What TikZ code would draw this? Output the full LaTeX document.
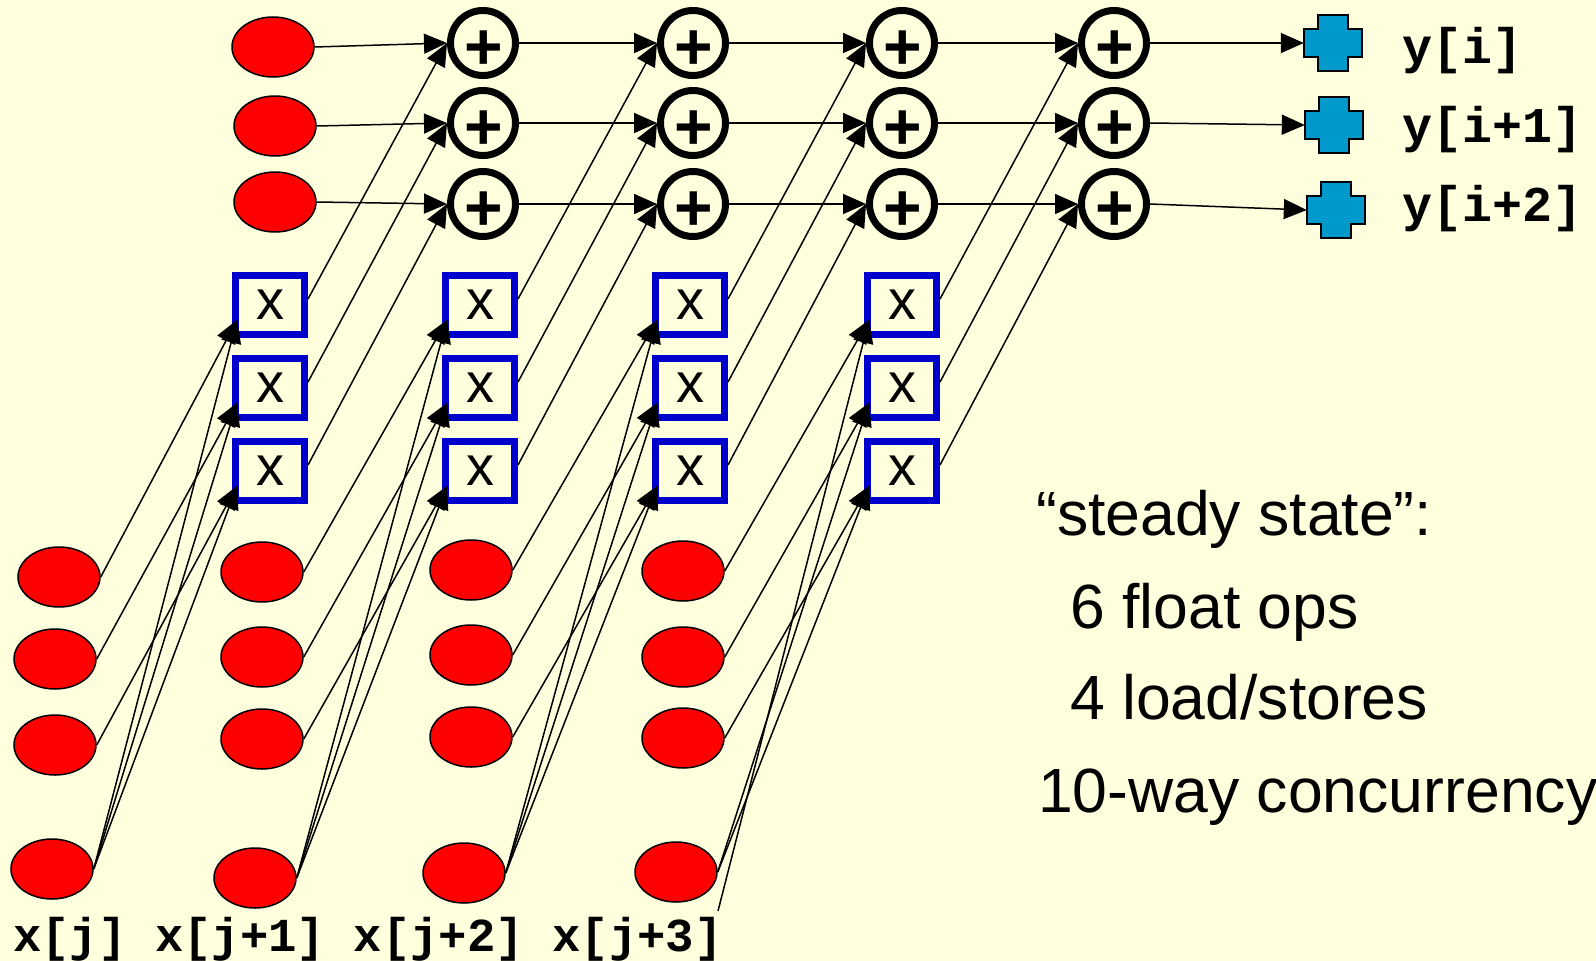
\documentclass[tikz,border=0pt]{standalone}
\usepackage{fontspec}
\setmainfont{Liberation Sans}
\newfontfamily\codefont{Liberation Mono}
\usetikzlibrary{arrows.meta,calc,shapes.geometric}
\definecolor{bgcol}{RGB}{255,255,221}
\definecolor{boxblue}{RGB}{0,0,204}
\definecolor{outblue}{RGB}{0,153,204}
\begin{document}
\begin{tikzpicture}[x=1pt,y=-1pt,
  redell/.style={ellipse,draw=black,line width=1.5pt,fill=red,minimum width=82pt,minimum height=60pt,inner sep=0pt},
  adder/.style={circle,draw=black,line width=7pt,minimum size=65pt,inner sep=0pt},
  mulbox/.style={rectangle,draw=boxblue,line width=7pt,minimum width=69pt,minimum height=59pt,inner sep=0pt,font=\fontsize{56}{56}\selectfont},
  plussym/.style={inner sep=0pt,font=\bfseries\fontsize{66}{66}\selectfont},
  outnode/.style={rectangle,minimum width=58pt,minimum height=57pt,inner sep=0pt},
  crossfill/.style={fill=outblue,draw=black,line width=1.3pt},
  wire/.style={draw=black,line width=1.5pt,-{Triangle[length=23pt,width=20pt]}},
  codelab/.style={anchor=base west,inner sep=0pt,font=\codefont\bfseries\fontsize{50}{50}\selectfont},
  bigtext/.style={anchor=base west,inner sep=0pt,font=\fontsize{62.5}{75}\selectfont}
]
\fill[bgcol] (0,0) rectangle (1596,961);
\useasboundingbox (0,0) rectangle (1596,961);

% initial y values
\node[redell] (I-1) at (273,47) {};
\node[redell] (I-2) at (275,126) {};
\node[redell] (I-3) at (275,202) {};

% adders
\foreach \c/\x in {1/483,2/693,3/902,4/1114}{
  \foreach \r/\y in {1/43,2/123,3/204}{
    \node[adder] (A-\c-\r) at (\x,\y) {};
    \node[plussym] (P-\c-\r) at ($(A-\c-\r)+(1,7)$) {+};
  }
}

% multiply boxes
\foreach \c/\x in {1/270,2/480,3/690,4/902}{
  \foreach \r/\y in {1/305,2/388,3/471}{
    \node[mulbox] (M-\c-\r) at (\x,\y) {x};
  }
}

% matrix / vector ellipses
\node[redell] (E-1-1) at (59,577) {};
\node[redell] (E-1-2) at (55,659) {};
\node[redell] (E-1-3) at (55,745) {};
\node[redell] (E-1-4) at (52,869) {};
\node[redell] (E-2-1) at (262,572) {};
\node[redell] (E-2-2) at (262,657) {};
\node[redell] (E-2-3) at (262,739) {};
\node[redell] (E-2-4) at (255,878) {};
\node[redell] (E-3-1) at (471,570) {};
\node[redell] (E-3-2) at (471,655) {};
\node[redell] (E-3-3) at (471,737) {};
\node[redell] (E-3-4) at (464,873) {};
\node[redell] (E-4-1) at (683,571) {};
\node[redell] (E-4-2) at (683,657) {};
\node[redell] (E-4-3) at (683,738) {};
\node[redell] (E-4-4) at (676,872) {};
\coordinate (stray) at (718,911);

% outputs
\foreach \r/\x/\y in {1/1333/43,2/1334/125,3/1336/210}{
  \node[outnode] (O-\r) at (\x,\y) {};
  \filldraw[crossfill,shift={(O-\r.center)}] (-15,-28) -- (15,-28) -- (15,-14) -- (29,-14) -- (29,14) -- (15,14) -- (15,28) -- (-15,28) -- (-15,14) -- (-29,14) -- (-29,-14) -- (-15,-14) -- cycle;
}

% labels
\node[codelab] (ylab1) at (1402,63) {y[i]};
\node[codelab] (ylab2) at (1402,142) {y[i+1]};
\node[codelab] (ylab3) at (1402,221) {y[i+2]};
\node[codelab,font=\codefont\bfseries\fontsize{47.3}{47}\selectfont] (xlab) at (13,951) {x[j] x[j+1] x[j+2] x[j+3]};

\node[bigtext] (t1) at (1036,535) {“steady state”:};
\node[bigtext] (t2) at (1070,628) {6 float ops};
\node[bigtext] (t3) at (1070,719) {4 load/stores};
\node[bigtext] (t4) at (1038,812) {10-way concurrency};

% connectors: accumulation chain
\foreach \r in {1,2,3}{
  \draw[wire] (I-\r.east) -- (A-1-\r.west);
  \draw[wire] (A-4-\r.east) -- (O-\r.west);
}
\foreach \c/\n in {1/2,2/3,3/4}{
  \foreach \r in {1,2,3}{
    \draw[wire] (A-\c-\r.east) -- (A-\n-\r.west);
  }
}
% products into adders
\foreach \c in {1,2,3,4}{
  \foreach \r in {1,2,3}{
    \draw[wire] ($(M-\c-\r.east)+(0,-6)$) -- (A-\c-\r.west);
    \draw[wire] (E-\c-\r.east) -- ($(M-\c-\r.west)+(5,15)$);
  }
}
% vector element fans out to the three multiplies
\foreach \c in {1,2,3}{
  \foreach \r in {1,2,3}{
    \draw[wire] (E-\c-4.east) -- ($(M-\c-\r.west)+(5,15)$);
  }
}
\foreach \r in {2,3}{
  \draw[wire] (E-4-4.east) -- ($(M-4-\r.west)+(5,15)$);
}
\draw[wire] (stray) -- ($(M-4-1.west)+(5,15)$);
\end{tikzpicture}
\end{document}
